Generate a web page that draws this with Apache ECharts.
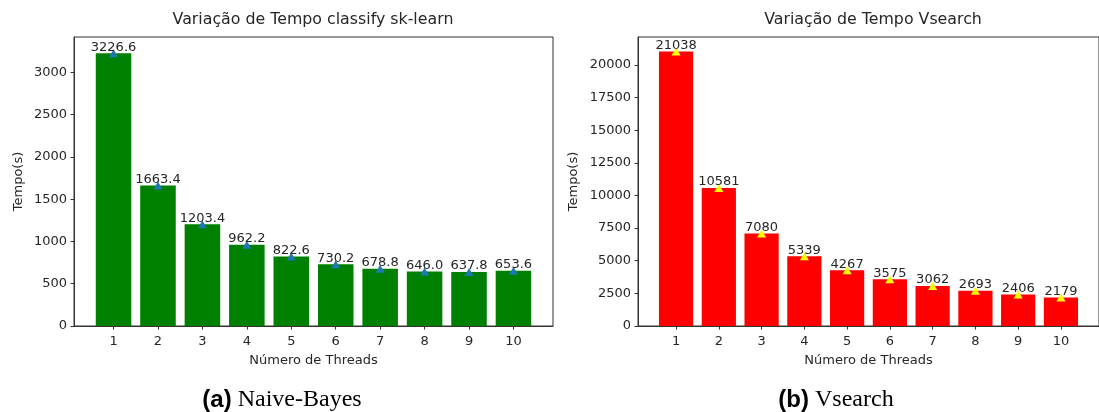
<!DOCTYPE html>
<html>
<head>
<meta charset="utf-8">
<script src="https://cdn.jsdelivr.net/npm/echarts@6/dist/echarts.min.js"></script>
<style>
  html, body { margin: 0; padding: 0; background: #fff; }
  #chart { width: 1099px; height: 412px; }
</style>
</head>
<body>
<div id="chart"></div>
<script>
// Execution time by thread count
const threads = [1, 2, 3, 4, 5, 6, 7, 8, 9, 10];
const naiveBayesTimes = [3226.6, 1663.4, 1203.4, 962.2, 822.6, 730.2, 678.8, 646.0, 637.8, 653.6];
const vsearchTimes = [21038, 10581, 7080, 5339, 4267, 3575, 3062, 2693, 2406, 2179];
const naiveBayesTicks = [0, 500, 1000, 1500, 2000, 2500, 3000];
const vsearchTicks = [0, 2500, 5000, 7500, 10000, 12500, 15000, 17500, 20000];

const titleLeft = 'Variação de Tempo classify sk-learn';
const titleRight = 'Variação de Tempo Vsearch';
const xName = 'Número de Threads';
const yName = 'Tempo(s)';

const FONT = 'DejaVu Sans';
const TXT = '#262626';
const FS = 13;

// Panel frames (pixels)
const panels = [
  { left: 74, right: 1099 - 553, top: 37, bottom: 412 - 326, yMax: 3420, nameGap: 49 },
  { left: 638, right: 1099 - 1108, top: 37, bottom: 412 - 326, yMax: 22140, nameGap: 58 }
];

function xAxisFor(i) {
  return {
    type: 'value', gridIndex: i, min: 0.11, max: 10.89,
    name: xName, nameLocation: 'middle', nameGap: 28,
    nameTextStyle: { fontFamily: FONT, fontSize: FS, color: TXT },
    axisLine: { show: true, lineStyle: { color: '#333', width: 1 } },
    axisTick: { show: true, length: 3.5, customValues: threads, lineStyle: { color: '#333' } },
    axisLabel: { customValues: threads, margin: 9, fontFamily: FONT, fontSize: FS, color: TXT,
                 formatter: v => String(v) },
    splitLine: { show: false }
  };
}
function yAxisFor(i, ticks) {
  return {
    type: 'value', gridIndex: i, min: 0, max: panels[i].yMax,
    name: yName, nameLocation: 'middle', nameGap: panels[i].nameGap,
    nameTextStyle: { fontFamily: FONT, fontSize: FS, color: TXT },
    axisLine: { show: true, lineStyle: { color: '#333', width: 1 } },
    axisTick: { show: true, length: 3.5, customValues: ticks, lineStyle: { color: '#333' } },
    axisLabel: { customValues: ticks, margin: 7, fontFamily: FONT, fontSize: FS, color: TXT,
                 formatter: v => String(v) },
    splitLine: { show: false }
  };
}
function barSeries(i, values, color) {
  return {
    type: 'bar', xAxisIndex: i, yAxisIndex: i,
    data: threads.map((t, k) => [t, values[k]]),
    barWidth: '80%',
    itemStyle: { color: color },
    z: 2
  };
}
function markerSeries(i, values, color, fmt) {
  return {
    type: 'scatter', xAxisIndex: i, yAxisIndex: i,
    data: threads.map((t, k) => [t, values[k]]),
    symbol: 'triangle', symbolSize: [9, 8],
    itemStyle: { color: color, opacity: 1 },
    label: {
      show: true, position: 'inside', offset: [0, -6],
      formatter: p => fmt(p.value[1]),
      fontFamily: FONT, fontSize: FS, color: TXT
    },
    emphasis: { disabled: true },
    z: 3
  };
}

const chart = echarts.init(document.getElementById('chart'), null, { renderer: 'canvas' });

const captionRich = {
  p: { fontFamily: 'Liberation Sans', fontWeight: 'bold', fontSize: 24, fill: '#000' },
  t: { fontFamily: 'Liberation Serif', fontSize: 24, fill: '#000' }
};

chart.setOption({
  animation: false,
  backgroundColor: '#fff',
  grid: panels.map(p => ({
    left: p.left, right: p.right, top: p.top, bottom: p.bottom,
    show: true, borderColor: '#333', borderWidth: 1, backgroundColor: 'transparent'
  })),
  xAxis: [xAxisFor(0), xAxisFor(1)],
  yAxis: [yAxisFor(0, naiveBayesTicks), yAxisFor(1, vsearchTicks)],
  series: [
    barSeries(0, naiveBayesTimes, '#008000'),
    markerSeries(0, naiveBayesTimes, '#1f77b4', v => v.toFixed(1)),
    barSeries(1, vsearchTimes, '#ff0000'),
    markerSeries(1, vsearchTimes, '#ffff00', v => String(Math.round(v)))
  ],
  graphic: [
    { type: 'text', x: 313, y: 20, style: { text: titleLeft, fontFamily: FONT, fontSize: 15.8, fill: TXT, textAlign: 'center', textVerticalAlign: 'middle' } },
    { type: 'text', x: 873, y: 20, style: { text: titleRight, fontFamily: FONT, fontSize: 15.8, fill: TXT, textAlign: 'center', textVerticalAlign: 'middle' } },
    { type: 'text', x: 282, y: 400, style: { text: '{p|(a)}{t| Naive-Bayes}', rich: captionRich, textAlign: 'center', textVerticalAlign: 'middle' } },
    { type: 'text', x: 836, y: 400, style: { text: '{p|(b)}{t| Vsearch}', rich: captionRich, textAlign: 'center', textVerticalAlign: 'middle' } }
  ]
});
</script>
</body>
</html>
